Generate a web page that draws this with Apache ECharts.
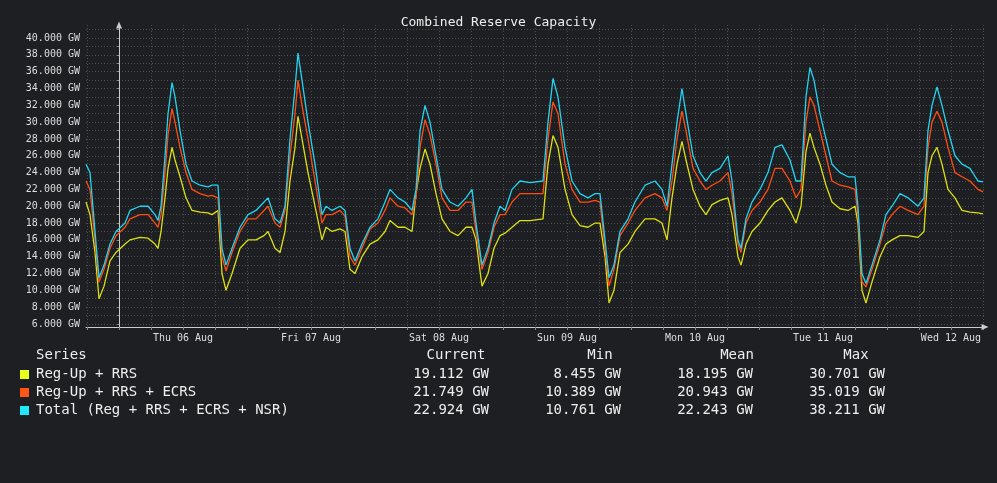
<!DOCTYPE html>
<html>
<head>
<meta charset="utf-8">
<script src="https://cdn.jsdelivr.net/npm/echarts@6/dist/echarts.min.js"></script>
<style>
  html, body { margin: 0; padding: 0; background: #1e1f22; }
  #chart { width: 997px; height: 483px; }
</style>
</head>
<body>
<div id="chart"></div>
<script>
// hours relative to Thu 06 Aug 00:00
const hours = [-6.19,-5.44,-4.5,-3.75,-2.81,-1.69,-0.56,1.13,2.06,3.94,5.44,6.75,7.31,7.88,8.63,9.19,9.94,10.5,11.44,12.56,13.69,15.19,16.69,17.44,18.56,19.31,20.06,21.19,22.69,24.19,25.69,27.19,27.94,29.25,30.19,31.13,32.06,33,33.56,34.31,35.44,36.75,38.06,38.81,39.94,41.44,42.38,43.31,44.25,45.56,47.06,48.56,49.88,50.81,52.31,53.63,54.94,55.69,56.44,57.38,58.31,59.44,60.56,62.06,63.56,65.06,66.19,66.94,68.06,69.19,70.31,71.44,72.38,73.69,75.19,77.06,79.5,80.44,81.38,82.31,83.63,84.94,86.44,87.94,89.25,90.19,91.13,91.88,92.81,93.94,95.44,96.75,98.63,100.5,101.81,102.75,103.69,104.63,105.56,106.31,107.63,108.94,110.06,111.19,112.69,114.19,114.94,116.06,116.63,117.56,118.69,120.19,121.69,123,124.31,125.81,126.94,127.88,128.81,129.56,130.31,131.44,132.56,133.69,135.19,136.69,138,138.56,139.31,140.06,141.19,142.69,143.81,144.94,146.44,147.94,149.81,150.94,151.69,152.44,153.38,154.31,155.44,156.75,158.06,159.56,161.06,162]

const total = [25,24,17,11.5,13,15.5,17,18,19.5,20,20,19,18.3,20,26,31,34.7,33,29,25,23,22.5,22.3,22.5,22.5,15,13,15,17.5,19,19.5,20.5,21,18.5,18,20,28,34,38.2,35,30,25,19,20,19.5,20,19.5,15,13.5,15.5,17.5,18.5,20.5,22,21,20.5,19.5,22,29,32,30,26,22,20.5,20,21,22,18,13,15,18,20,19.5,22,23,22.8,23,30,35.2,33,27,23,21.5,21,21.5,21.5,16,11.5,13,17,18.5,20.5,22.5,23,22,20,25,30,34,31,26,24,23,24,24.5,26,23,16,15,18.5,20.5,22,24,27,27.3,25.5,23,23,33,36.5,35,31,28,25,24,23.5,23.5,20,12,10.8,13,16,19,20,21.5,21,20,21,29,32,34.2,32,29,26,25,24.5,23,22.9]

const regRrsEcrs = [23,22,16,11,12.5,15,16.5,17.5,18.5,19,19,18,17.5,19,24,28.5,31.6,30,27,24,22,21.5,21.2,21.3,21,14,12.3,14.5,17,18.5,18.5,19.5,20,18,17.5,19.5,26,31,35,32,28,23,18,19,19,19.5,18.8,14,13,15,17.3,18,19.5,21,20,19.8,19,21,27,30.3,28.5,25,21,19.5,19.5,20.5,20.5,17,12.5,14.5,17.5,19,19,20.5,21.5,21.5,21.5,28,32.4,31,25,22,20.5,20.5,20.7,20.5,15,10.5,12.5,16.5,18,19.5,21,21.5,21,19.5,23,28,31.3,29,24.5,23,22,22.5,23,24,21.5,15.5,14.5,18,19.5,20.5,22,24.5,24.5,23,21,22,30,33,32,29,26,23,22.5,22.3,22,19,11,10.4,12.5,15.5,18,19,20,19.5,19,20,27,30,31.3,30,27,24,23.5,23,22,21.7]

const regRrs = [20.5,19,14.5,9,10.5,13.5,14.5,15.5,16,16.3,16.2,15.5,15,17,21,24.5,27,25.5,23.5,21,19.5,19.3,19.2,19,19.5,12,10,12,15,16,16,16.5,17,15,14.5,17,23,27,30.7,28,24,20,16,17.5,17,17.3,17,12.5,12,14,15.5,16,17,18.3,17.5,17.5,17,21.5,24.5,26.8,25,21.5,18.5,17,16.5,17.5,17.5,16,10.5,12,15,16.5,16.8,17.5,18.3,18.3,18.5,25,28.4,27,22,19,17.7,17.5,18,18,14,8.5,10,14.5,15.5,17,18.5,18.5,18,16,21,25,27.7,25.5,22,20,19,20.2,20.7,21,19,14,13,15.5,17,18,19.5,20.5,21,19.5,18,20,26.5,28.7,27,25,22.5,20.5,19.7,19.5,20,18,10,8.5,11,14,15.5,16,16.5,16.5,16.3,17,24,26,27,25,22,21,19.5,19.3,19.2,19.1]

const seriesNames = ['Reg-Up + RRS', 'Reg-Up + RRS + ECRS', 'Total (Reg + RRS + ECRS + NSR)']
const seriesColors = ['#dde010', '#ff4d12', '#22d4f2']
const legendColors = ['#e8ff1e', '#ff5518', '#22e8ff']
const statCurrent = ['19.112 GW', '21.749 GW', '22.924 GW']
const statMin = ['8.455 GW', '10.389 GW', '10.761 GW']
const statMean = ['18.195 GW', '20.943 GW', '22.243 GW']
const statMax = ['30.701 GW', '35.019 GW', '38.211 GW']
const dayLabels = ['Thu 06 Aug', 'Fri 07 Aug', 'Sat 08 Aug', 'Sun 09 Aug', 'Mon 10 Aug', 'Tue 11 Aug', 'Wed 12 Aug']

const yLabelValues = []
for (let v = 6; v <= 40; v += 2) yLabelValues.push(v)
const yGridValues = []
for (let v = 6; v <= 41; v += 1) yGridValues.push(v)
const xGridValues = []
for (let h = -6; h <= 162; h += 6) xGridValues.push(h)
const xLabelValues = dayLabels.map((d, i) => 12 + 24 * i)

const mono = 'DejaVu Sans Mono'
const chart = echarts.init(document.getElementById('chart'))

const dataSets = [regRrs, regRrsEcrs, total]

const legendGraphics = [
  { type: 'text', left: 36, top: 348, style: { text: 'Series', fill: '#eee', font: '14px ' + mono } },
  { type: 'text', x: 456, y: 348, style: { text: 'Current', fill: '#eee', font: '14px ' + mono, textAlign: 'center' } },
  { type: 'text', x: 600, y: 348, style: { text: 'Min', fill: '#eee', font: '14px ' + mono, textAlign: 'center' } },
  { type: 'text', x: 737, y: 348, style: { text: 'Mean', fill: '#eee', font: '14px ' + mono, textAlign: 'center' } },
  { type: 'text', x: 856, y: 348, style: { text: 'Max', fill: '#eee', font: '14px ' + mono, textAlign: 'center' } },
]
seriesNames.forEach((n, i) => {
  const y = 367 + i * 18
  legendGraphics.push(
    { type: 'rect', shape: { x: 20, y: y + 3, width: 9, height: 9 }, style: { fill: legendColors[i] } },
    { type: 'text', x: 36, y: y, style: { text: n, fill: '#eee', font: '14px ' + mono } },
    { type: 'text', x: 489, y: y, style: { text: statCurrent[i], fill: '#eee', font: '14px ' + mono, textAlign: 'right' } },
    { type: 'text', x: 621, y: y, style: { text: statMin[i], fill: '#eee', font: '14px ' + mono, textAlign: 'right' } },
    { type: 'text', x: 753, y: y, style: { text: statMean[i], fill: '#eee', font: '14px ' + mono, textAlign: 'right' } },
    { type: 'text', x: 885, y: y, style: { text: statMax[i], fill: '#eee', font: '14px ' + mono, textAlign: 'right' } }
  )
})

const option = {
  backgroundColor: '#1e1f22',
  animation: false,
  title: {
    text: 'Combined Reserve Capacity', left: 'center', top: 11,
    textStyle: { color: '#eee', fontFamily: mono, fontSize: 13, fontWeight: 'normal' }
  },
  grid: { left: 86, right: 12, top: 25, bottom: 156 },
  xAxis: {
    type: 'value', min: -6.19, max: 162.38,
    axisLine: { lineStyle: { color: '#ccc' }, symbol: ['none', 'triangle'], symbolSize: [6, 7] },
    axisTick: { show: true, customValues: xGridValues, length: 3, lineStyle: { color: '#888' } },
    axisLabel: {
      customValues: xLabelValues, color: '#ddd', fontFamily: mono, fontSize: 10, margin: 6,
      formatter: v => dayLabels[Math.round((v - 12) / 24)]
    },
    splitLine: { show: true, lineStyle: { color: '#4a4b4e', type: [1, 2] } }
  },
  yAxis: {
    type: 'value', min: 5.64, max: 41.55,
    axisLine: { show: true, lineStyle: { color: '#ccc' }, symbol: ['none', 'triangle'], symbolSize: [6, 7] },
    axisTick: { show: true, customValues: yGridValues, length: 2, lineStyle: { color: '#888' } },
    axisLabel: {
      customValues: yLabelValues, color: '#ddd', fontFamily: mono, fontSize: 10, margin: 6,
      formatter: v => v.toFixed(3) + ' GW'
    },
    splitLine: { show: true, lineStyle: { color: '#4a4b4e', type: [1, 2] } }
  },
  series: dataSets.map((d, i) => ({
    name: seriesNames[i], type: 'line', showSymbol: false, z: 3 + i,
    lineStyle: { color: seriesColors[i], width: 1.3 },
    data: hours.map((h, k) => [h, d[k]])
  })),
  graphic: legendGraphics
}
chart.setOption(option)
</script>
</body>
</html>
